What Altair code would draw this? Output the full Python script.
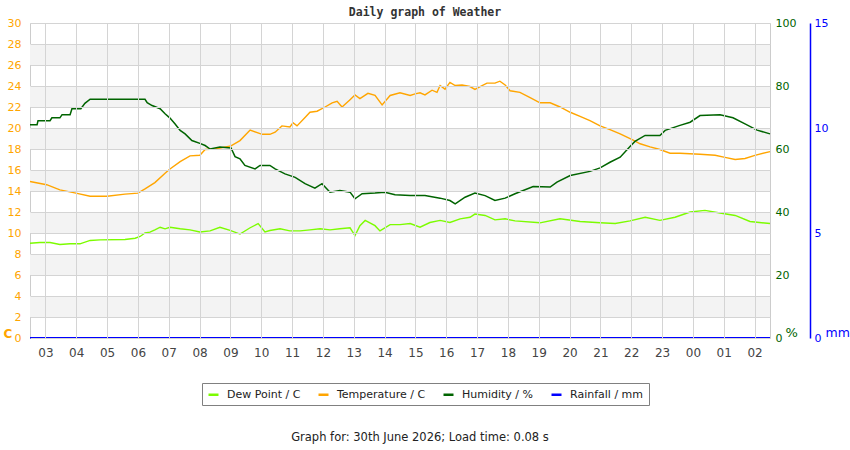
import altair as alt
import pandas as pd

# ---- data (hours of day; values continue past midnight as 24+) ----
temp_h = [2.50, 3.04, 3.47, 3.99, 4.45, 5.00, 5.58, 6.00, 6.23, 6.55,
          6.88, 7.04, 7.37, 7.69, 8.01, 8.18, 8.50, 9.02, 9.31, 9.64,
          10.03, 10.28, 10.45, 10.67, 10.93, 11.03, 11.16, 11.42, 11.58, 11.81,
          12.07, 12.30, 12.46, 12.62, 12.88, 13.04, 13.20, 13.46, 13.69, 13.92,
          14.18, 14.50, 14.83, 14.99, 15.15, 15.31, 15.54, 15.70, 15.80, 15.96,
          16.12, 16.29, 16.51, 16.77, 16.93, 17.10, 17.32, 17.58, 17.74, 17.91,
          18.07, 18.39, 18.72, 19.04, 19.37, 19.69, 20.02, 20.34, 20.66, 20.99,
          21.31, 21.64, 22.03, 22.29, 22.61, 22.93, 23.26, 23.58, 24.23, 24.72,
          25.04, 25.37, 25.69, 26.01, 26.50]
temp_v = [14.9, 14.6, 14.1, 13.8, 13.5, 13.5, 13.7, 13.8, 14.2, 14.8,
          15.7, 16.1, 16.8, 17.35, 17.4, 17.95, 18.0, 18.3, 18.8, 19.8,
          19.4, 19.4, 19.6, 20.2, 20.1, 20.5, 20.2, 21.0, 21.5, 21.6,
          22.0, 22.4, 22.55, 22.0, 22.7, 23.15, 22.8, 23.3, 23.1, 22.2,
          23.1, 23.35, 23.1, 23.25, 23.35, 23.15, 23.6, 23.4, 24.05, 23.7,
          24.35, 24.05, 24.1, 23.95, 23.67, 23.95, 24.27, 24.27, 24.46, 24.1,
          23.55, 23.4, 22.9, 22.4, 22.4, 22.0, 21.5, 21.1, 20.7, 20.2,
          19.85, 19.45, 18.9, 18.5, 18.2, 17.95, 17.6, 17.6, 17.5, 17.4,
          17.2, 17.0, 17.1, 17.4, 17.75]

dew_h = [2.50, 2.82, 3.15, 3.47, 3.80, 4.12, 4.45, 4.77, 5.58, 5.91,
         6.07, 6.23, 6.39, 6.55, 6.72, 6.88, 7.04, 7.37, 7.69, 8.01,
         8.34, 8.66, 8.99, 9.31, 9.64, 9.90, 10.12, 10.28, 10.61, 10.93,
         11.26, 11.58, 11.91, 12.23, 12.55, 12.88, 13.04, 13.20, 13.37, 13.69,
         13.85, 14.18, 14.50, 14.83, 15.15, 15.47, 15.80, 16.12, 16.45, 16.77,
         16.93, 17.26, 17.58, 17.91, 18.23, 19.04, 19.69, 20.34, 20.99, 21.48,
         21.96, 22.45, 22.93, 23.42, 23.91, 24.39, 24.88, 25.37, 25.85, 26.50]
dew_v = [9.03, 9.1, 9.1, 8.9, 8.97, 8.97, 9.29, 9.35, 9.38, 9.5,
         9.67, 10.0, 10.08, 10.3, 10.55, 10.4, 10.55, 10.4, 10.3, 10.1,
         10.2, 10.55, 10.25, 9.9, 10.5, 10.9, 10.1, 10.24, 10.4, 10.2,
         10.2, 10.3, 10.4, 10.3, 10.4, 10.5, 9.76, 10.7, 11.2, 10.7,
         10.2, 10.8, 10.8, 10.9, 10.55, 11.0, 11.2, 11.0, 11.35, 11.5,
         11.8, 11.67, 11.25, 11.35, 11.15, 10.97, 11.35, 11.1, 10.97, 10.9,
         11.15, 11.5, 11.2, 11.5, 12.0, 12.15, 11.9, 11.67, 11.1, 10.9]

hum_h = [2.50, 2.73, 2.76, 3.15, 3.21, 3.47, 3.54, 3.80, 3.86, 4.15,
         4.28, 4.45, 6.23, 6.30, 6.46, 6.72, 6.88, 7.04, 7.20, 7.37,
         7.53, 7.75, 8.01, 8.18, 8.34, 8.66, 9.02, 9.15, 9.31, 9.47,
         9.80, 9.96, 10.28, 10.45, 10.77, 11.10, 11.42, 11.74, 11.97, 12.23,
         12.55, 12.88, 13.04, 13.27, 13.69, 14.01, 14.34, 14.83, 15.31, 15.80,
         16.12, 16.29, 16.61, 16.93, 17.26, 17.58, 17.91, 18.23, 18.82, 19.37,
         19.59, 20.02, 20.66, 20.99, 21.31, 21.64, 21.96, 22.12, 22.45, 22.93,
         23.10, 23.58, 23.91, 24.23, 24.88, 25.30, 25.69, 26.08, 26.50]
hum_v = [67.7, 67.7, 69.0, 69.0, 69.9, 69.9, 70.9, 70.9, 72.8, 72.8,
         74.5, 75.8, 75.8, 74.7, 73.8, 72.8, 71.2, 69.8, 68.0, 65.9,
         64.8, 62.7, 61.8, 61.1, 60.0, 60.6, 60.3, 57.6, 56.9, 54.8,
         53.7, 54.8, 54.8, 53.7, 52.1, 51.0, 49.0, 47.6, 49.0, 46.3,
         46.8, 46.3, 44.2, 45.8, 46.0, 46.3, 45.5, 45.2, 45.2, 44.4,
         43.65, 42.6, 44.7, 46.0, 45.2, 43.65, 44.4, 45.8, 48.1, 47.9,
         49.5, 51.6, 52.9, 54.0, 55.8, 57.4, 60.8, 62.4, 64.3, 64.3,
         65.9, 67.5, 68.5, 70.6, 70.9, 69.9, 68.0, 66.0, 64.8]

rain_h = [2.50, 26.50]
rain_v = [0.0, 0.0]

hour_ticks = list(range(3, 27))
band_lo = [2, 6, 10, 14, 18, 22, 26]
band_hi = [4, 8, 12, 16, 20, 24, 28]

series_names = ["Dew Point / C", "Temperature / C", "Humidity / %", "Rainfall / mm"]
series_colors = ["#7CFC00", "#FFA500", "#006400", "#0000FF"]

title_text = "Daily graph of Weather"
caption_text = "Graph for: 30th June 2026; Load time: 0.08 s"

# ---- tables ----
td = pd.concat([
    pd.DataFrame({"h": dew_h, "value": dew_v, "series": series_names[0]}),
    pd.DataFrame({"h": temp_h, "value": temp_v, "series": series_names[1]}),
])
hd = pd.DataFrame({"h": hum_h, "value": hum_v, "series": series_names[2]})
rd = pd.DataFrame({"h": rain_h, "value": rain_v, "series": series_names[3]})
bands = pd.DataFrame({"lo": band_lo, "hi": band_hi})
cap = pd.DataFrame({"t": [caption_text]})
ttl = pd.DataFrame({"t": [title_text]})

color = alt.Color("series:N", title=None,
                  scale=alt.Scale(domain=series_names, range=series_colors),
                  sort=series_names)

x_axis = alt.Axis(values=hour_ticks, title=None, grid=True, gridColor="#d4d4d4",
                  ticks=False, tickSize=0, domain=False, labelPadding=9,
                  labelColor="#444444", labelFontSize=12, labelFont="DejaVu Sans",
                  labelExpr="(datum.value % 24 < 10 ? '0' : '') + (datum.value % 24)",
                  zindex=1)
x_enc = alt.X("h:Q", scale=alt.Scale(domain=[2.5, 26.5], nice=False, zero=False), axis=x_axis)

temp_axis = alt.Axis(values=list(range(0, 31, 2)), title="C", grid=True, gridColor="#d4d4d4",
                     ticks=False, tickSize=0, domain=False, labelPadding=9,
                     labelColor="#FFA500", labelFontSize=11, labelFont="DejaVu Sans",
                     titleColor="#FFA500", titleFont="DejaVu Sans", titleFontSize=12,
                     titleFontWeight="bold", titleAngle=0, titleAlign="left",
                     titleBaseline="alphabetic", titleX=-27, titleY=314, zindex=1)
temp_scale = alt.Scale(domain=[0, 30], nice=False, zero=True)

band_layer = alt.Chart(bands).mark_rect(color="#f3f3f3").encode(
    x=alt.value(0), x2=alt.value("width"),
    y=alt.Y("lo:Q", scale=temp_scale, axis=temp_axis),
    y2="hi:Q",
)
temp_layer = alt.Chart(td).mark_line(strokeWidth=1.4).encode(
    x=x_enc,
    y=alt.Y("value:Q", scale=temp_scale, axis=temp_axis),
    color=color,
)
left = alt.layer(band_layer, temp_layer)

hum_layer = alt.Chart(hd).mark_line(strokeWidth=1.5).encode(
    x=x_enc,
    y=alt.Y("value:Q", scale=alt.Scale(domain=[0, 100], nice=False),
            axis=alt.Axis(orient="right", values=[0, 20, 40, 60, 80, 100], grid=False,
                          ticks=False, tickSize=0, domain=False, labelPadding=5,
                          labelColor="#006400", labelFontSize=11, labelFont="DejaVu Sans",
                          title="%", titleColor="#006400", titleFont="DejaVu Sans",
                          titleFontSize=13, titleFontWeight="normal", titleAngle=0,
                          titleAlign="left", titleBaseline="alphabetic",
                          titleX=15, titleY=313)),
    color=color,
)

rain_layer = alt.Chart(rd).mark_line(strokeWidth=2).encode(
    x=x_enc,
    y=alt.Y("value:Q", scale=alt.Scale(domain=[0, 15], nice=False),
            axis=alt.Axis(orient="right", offset=40, values=[0, 5, 10, 15], grid=False,
                          ticks=False, tickSize=0, domain=True, domainColor="#0000FF",
                          domainWidth=1.5, labelPadding=4,
                          labelColor="#0000FF", labelFontSize=11, labelFont="DejaVu Sans",
                          title="mm", titleColor="#0000FF", titleFont="DejaVu Sans",
                          titleFontSize=12.5, titleFontWeight="normal", titleAngle=0,
                          titleAlign="left", titleBaseline="alphabetic",
                          titleX=15, titleY=313)),
    color=color,
)

cap_layer = alt.Chart(cap).mark_text(font="DejaVu Sans", fontSize=11.5, color="#222222",
                                     align="center", baseline="middle").encode(
    text="t:N", x=alt.value(390), y=alt.value(415)
)

title_layer = alt.Chart(ttl).mark_text(font="DejaVu Sans Mono", fontSize=11.5,
                                       fontWeight="bold", color="#333333",
                                       align="center", baseline="alphabetic").encode(
    text="t:N", x=alt.value(395), y=alt.value(-7)
)

chart = alt.layer(left, hum_layer, rain_layer, cap_layer, title_layer).resolve_scale(
    y="independent"
).properties(
    width=740, height=315,
    autosize=alt.AutoSizeParams(type="none"),
    padding={"left": 30, "top": 23, "right": 80, "bottom": 112},
).configure_view(
    stroke="#cccccc"
).configure_legend(
    orient="none", legendX=172, legendY=360, direction="horizontal",
    strokeColor="#808080", padding=5, symbolType="stroke", symbolSize=100,
    symbolStrokeWidth=2.5, labelFontSize=11, labelFont="DejaVu Sans",
    labelColor="#222222", labelOffset=7, columnPadding=12, fillColor="white",
)

chart.save("out.html", embed_options={"renderer": "svg", "actions": False})
